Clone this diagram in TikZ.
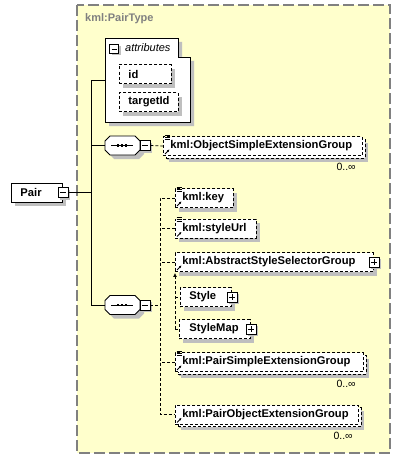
\documentclass[tikz,border=0pt]{standalone}
\usepackage{fontspec}
\setmainfont{Liberation Sans}
\usetikzlibrary{shadows,arrows.meta}

\newcommand{\refmark}[1]{\draw[line width=0.9pt,-{Latex[length=2.5pt,width=2.5pt]}] ([shift={(2,-2)}]#1.south west) -- ++(4.5,-4.5);}
\newcommand{\docmark}[1]{\foreach \k in {-1,1,3} \draw[line width=0.7pt] ([shift={(1.5,\k)}]#1.north west) -- ++(5,0);}
\newcommand{\seqshape}[1]{%
  \draw[line width=0.8pt,fill=white,shade box] ([shift={(0,5)}]#1.north west) -- ([shift={(5,0)}]#1.north west) -- ([shift={(-5,0)}]#1.north east) -- ([shift={(0,5)}]#1.north east)
    -- ([shift={(0,-5)}]#1.south east) -- ([shift={(-5,0)}]#1.south east) -- ([shift={(5,0)}]#1.south west) -- ([shift={(0,-5)}]#1.south west) -- cycle;
  \draw[line width=0.8pt] ([xshift=6pt]#1.west) -- ([xshift=-7pt]#1.east);
  \draw[line width=2.6pt,dash pattern=on 2.4pt off 1.6pt] ([xshift=-5.5pt]#1.center) -- ([xshift=5pt]#1.center);}

\begin{document}
\begin{tikzpicture}[x=1pt,y=-1pt,
  shade box/.style={drop shadow={shadow xshift=4pt,shadow yshift=-4pt,fill=black!25,opacity=1}},
  wire/.style={line width=0.8pt},
  dashline/.style={line width=0.8pt,dash pattern=on 3pt off 2pt},
  elem/.style={font=\fontsize{11.2}{13}\selectfont\bfseries,draw,line width=0.9pt,dash pattern=on 3pt off 2pt,fill=white,anchor=west,minimum height=19pt,inner ysep=0pt,inner xsep=7pt,align=left,shade box},
  multi/.style={elem,drop shadow={shadow xshift=6pt,shadow yshift=-6pt,fill=black!25,opacity=1},copy shadow={shadow xshift=2.5pt,shadow yshift=-2.5pt,draw,fill=white,dash pattern=on 3pt off 2pt}},
  occurs/.style={font=\fontsize{10.5}{12}\selectfont,anchor=north east,inner sep=0pt},
  pmbox/.style={draw,fill=white,line width=0.8pt,minimum size=10pt,inner sep=0pt,drop shadow={shadow xshift=2pt,shadow yshift=-2pt,fill=black!25,opacity=1}},
  collapse/.style={pmbox,path picture={\draw[line width=0.8pt] ([xshift=2pt]path picture bounding box.west) -- ([xshift=-2pt]path picture bounding box.east);}},
  expand/.style={pmbox,path picture={\draw[line width=0.8pt] ([xshift=2pt]path picture bounding box.west) -- ([xshift=-2pt]path picture bounding box.east);
    \draw[line width=0.8pt] ([yshift=-2pt]path picture bounding box.north) -- ([yshift=2pt]path picture bounding box.south);}},
  seq/.style={inner sep=0pt,outer sep=0pt,minimum width=35pt,minimum height=19pt}]

\definecolor{paleyellow}{HTML}{FFFFCC}

\useasboundingbox (0,0) rectangle (401,460);
\fill[white] (0,0) rectangle (401,460);

%%% complex type frame
\path[fill=paleyellow,draw=black!50,line width=1.2pt,dash pattern=on 11pt off 4pt] (77,5) rectangle (390,453);
\node[font=\fontsize{11}{13}\selectfont\bfseries,text=black!50,anchor=west,inner sep=0pt] (typeName) at (85,19) {kml:PairType};

%%% attributes
\node[anchor=north west,inner sep=0pt,outer sep=0pt,minimum width=85pt,minimum height=84pt] (attr) at (105,38) {};
\draw[wire,fill=white,shade box] (attr.north west) -- ++(73,0) -- ++(0,19) -- (attr.east |- 0,57) -- (attr.south east) -- (attr.south west) -- cycle;
\node[collapse,minimum size=9pt] (attrMinus) at (114,49) {};
\node[font=\fontsize{11}{13}\selectfont\itshape,anchor=west,inner sep=0pt] (attrTitle) at (125,48) {attributes};
\node[elem,inner xsep=9pt,text width=34pt] (idAttr) at (119,74) {id};
\node[elem,inner xsep=9pt,text width=41pt] (targetIdAttr) at (119,102) {targetId};

%%% root element
\node[elem,solid,inner xsep=9pt,text width=33pt] (pair) at (11,192.5) {Pair};
\node[collapse] (pairMinus) at (pair.east) {};

%%% first sequence
\node[seq] (seqA) at (122.5,145.5) {};
\seqshape{seqA}
\node[collapse] (seqAMinus) at ([xshift=5pt]seqA.east) {};
\node[multi,text width=185pt] (osg) at (163,146) {kml:ObjectSimpleExtensionGroup};
\node[occurs] (osgOccurs) at ([shift={(-7,7)}]osg.south east) {0..∞};

%%% second sequence
\node[seq] (seqB) at (122.5,305) {};
\seqshape{seqB}
\node[collapse] (seqBMinus) at ([xshift=5pt]seqB.east) {};
\node[elem,text width=44pt] (key) at (175,198) {kml:key};
\node[elem,text width=67pt] (styleUrl) at (175,228.5) {kml:styleUrl};
\node[elem,text width=184pt] (asg) at (175,262) {kml:AbstractStyleSelectorGroup};
\node[expand] (asgPlus) at (asg.east) {};
\node[elem,inner xsep=9pt,text width=33pt] (style) at (180,297) {Style};
\node[expand] (stylePlus) at (style.east) {};
\node[elem,inner xsep=10pt,text width=51pt] (styleMap) at (179,329) {StyleMap};
\node[expand] (styleMapPlus) at (styleMap.east) {};
\node[multi,text width=174pt] (psg) at (175,362) {kml:PairSimpleExtensionGroup};
\node[occurs] (psgOccurs) at ([shift={(-8,8)}]psg.south east) {0..∞};
\node[multi,text width=169pt] (pog) at (175,414.5) {kml:PairObjectExtensionGroup};
\node[occurs] (pogOccurs) at ([shift={(-6,8)}]pog.south east) {0..∞};

%icone
\docmark{osg} \refmark{osg}
\docmark{key} \refmark{key}
\docmark{styleUrl} \refmark{styleUrl}
\refmark{asg}
\docmark{psg} \refmark{psg}
\refmark{pog}

%%% connectors
\coordinate (trunkTop) at (91,80);
\coordinate (trunkBot) at (91,305);
\coordinate (fork) at (160,198);

\draw[wire] (trunkTop) -- (trunkBot);
\draw[wire] (pairMinus.east) -- (pairMinus.east -| trunkTop);
\draw[wire] (trunkTop) -- (trunkTop -| attr.west);
\draw[wire] (seqA.west) -- (seqA.west -| trunkTop);
\draw[wire] (seqB.west) -- (seqB.west -| trunkTop);

\draw[dashline] (seqAMinus.east) -- (osg.west);
\draw[dashline] (seqBMinus.east) -- (seqBMinus.east -| fork);
\draw[dashline] (key.west) -- (key.west -| fork) -- (pog.west -| fork) -- (pog.west);
\draw[dashline] (styleUrl.west) -- (styleUrl.west -| fork);
\draw[dashline] (asg.west) -- (asg.west -| fork);
\draw[dashline] (psg.west) -- (psg.west -| fork);

%sostituzione
\draw[dashline,-{Latex[length=4pt,width=4pt]}] (styleMap.west -| asg.west) -- ([yshift=-1pt]asg.south west);
\draw[dashline] (style.west -| asg.west) -- (style.west);
\draw[dashline] (styleMap.west -| asg.west) -- (styleMap.west);

\end{tikzpicture}
\end{document}
